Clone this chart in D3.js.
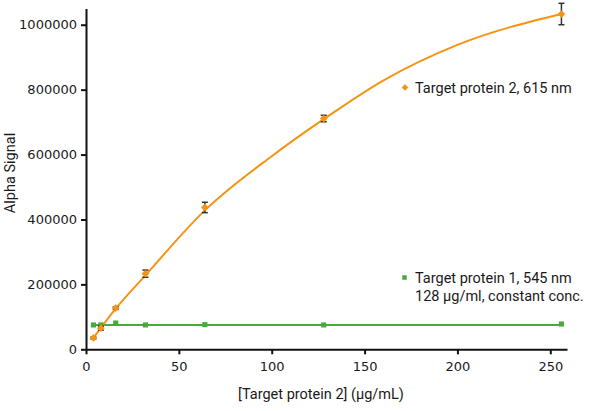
<!DOCTYPE html>
<html>
<head>
<meta charset="utf-8">
<script src="https://cdn.jsdelivr.net/npm/d3@7"></script>
<style>
  body { margin: 0; background: #fff; }
  text { fill: #1a1a1a; }
</style>
</head>
<body>
<script>
// measured points, target protein 2 (615 nm)
const concs = [4, 8, 16, 32, 64, 128, 256];
const signal615 = [35000, 65000, 127000, 233000, 437000, 711000, 1033000];
const err615 = [3000, 6000, 4000, 11000, 16000, 10000, 33000];
// target protein 1 (545 nm), constant conc.
const signal545 = [75000, 75000, 81000, 75000, 76000, 75000, 78000];
// fitted curves
const fitX615 = [4, 16, 32, 64, 100, 128, 160, 200, 256];
const fitY615 = [35000, 125000, 228000, 428000, 595000, 709000, 828000, 938000, 1033000];
const fitX545 = [3, 256];
const fitY545 = [74500, 74500];
const xTicks = [0, 50, 100, 150, 200, 250];
const yTicks = [0, 200000, 400000, 600000, 800000, 1000000];

const orange = '#f39412', green = '#47ab3a';
const width = 600, height = 411;
const margin = {top: 8.5, right: 33, bottom: 61.7, left: 86};

const svg = d3.select('body').append('svg')
    .attr('width', width).attr('height', height);

const x = d3.scaleLinear().domain([0, 259]).range([margin.left, width - margin.right]);
const y = d3.scaleLinear().domain([0, 1050000]).range([height - margin.bottom, margin.top]);

// axes
const xAxis = svg.append('g')
    .attr('transform', `translate(0,${height - margin.bottom})`)
    .call(d3.axisBottom(x).tickValues(xTicks).tickSize(5).tickSizeOuter(0));
const yAxis = svg.append('g')
    .attr('transform', `translate(${margin.left},0)`)
    .call(d3.axisLeft(y).tickValues(yTicks).tickFormat(d3.format('d')).tickSize(5).tickSizeOuter(0));

[xAxis, yAxis].forEach(g => {
    g.select('.domain').attr('stroke', '#111').attr('stroke-width', 2);
    g.selectAll('.tick line').attr('stroke', '#111').attr('stroke-width', 2);
    g.selectAll('.tick text').attr('font-family', 'DejaVu Sans').attr('font-size', 13).attr('fill', '#222');
});
xAxis.selectAll('.tick text').attr('dy', '1.05em');
yAxis.selectAll('.tick text').attr('x', -9);

svg.append('text')
    .attr('x', 321).attr('y', 399)
    .attr('text-anchor', 'middle')
    .attr('font-family', 'Roboto').attr('font-size', 14.5)
    .text('[Target protein 2] (µg/mL)');

svg.append('text')
    .attr('transform', 'translate(15,173) rotate(-90)')
    .attr('text-anchor', 'middle')
    .attr('font-family', 'Roboto').attr('font-size', 14.5)
    .text('Alpha Signal');

// fit lines
const line = d3.line().x(d => x(d[0])).y(d => y(d[1])).curve(d3.curveMonotoneX);
svg.append('path')
    .datum(d3.zip(fitX545, fitY545))
    .attr('d', line).attr('fill', 'none').attr('stroke', green).attr('stroke-width', 2);
svg.append('path')
    .datum(d3.zip(fitX615, fitY615))
    .attr('d', line).attr('fill', 'none').attr('stroke', orange).attr('stroke-width', 2);

// green points
svg.append('g').selectAll('path')
    .data(d3.zip(concs, signal545))
    .join('path')
    .attr('transform', d => `translate(${x(d[0])},${y(d[1])})`)
    .attr('d', d3.symbol(d3.symbolSquare, 26))
    .attr('fill', green);

// error bars
const eb = svg.append('g').attr('stroke', '#333').attr('stroke-width', 1.5);
d3.zip(concs, signal615, err615).forEach(([c, v, e]) => {
    const cx = x(c);
    eb.append('line').attr('x1', cx).attr('x2', cx).attr('y1', y(v - e)).attr('y2', y(v + e));
    eb.append('line').attr('x1', cx - 3).attr('x2', cx + 3).attr('y1', y(v - e)).attr('y2', y(v - e));
    eb.append('line').attr('x1', cx - 3).attr('x2', cx + 3).attr('y1', y(v + e)).attr('y2', y(v + e));
});

// orange points (rotated squares)
svg.append('g').selectAll('path')
    .data(d3.zip(concs, signal615))
    .join('path')
    .attr('transform', d => `translate(${x(d[0])},${y(d[1])}) rotate(45)`)
    .attr('d', d3.symbol(d3.symbolSquare, 30))
    .attr('fill', orange);

// legend
const leg = svg.append('g').attr('font-family', 'Roboto').attr('font-size', 14.5);
leg.append('path')
    .attr('transform', 'translate(405,87.5) rotate(45)')
    .attr('d', d3.symbol(d3.symbolSquare, 22)).attr('fill', orange);
leg.append('text').attr('x', 415).attr('y', 87.5).attr('dy', '0.35em')
    .text('Target protein 2, 615 nm');
leg.append('path')
    .attr('transform', 'translate(404.5,277.5)')
    .attr('d', d3.symbol(d3.symbolSquare, 20)).attr('fill', green);
leg.append('text').attr('x', 415).attr('y', 277.5).attr('dy', '0.35em')
    .text('Target protein 1, 545 nm');
leg.append('text').attr('x', 415).attr('y', 295.7).attr('dy', '0.35em')
    .text('128 µg/ml, constant conc.');
</script>
</body>
</html>
